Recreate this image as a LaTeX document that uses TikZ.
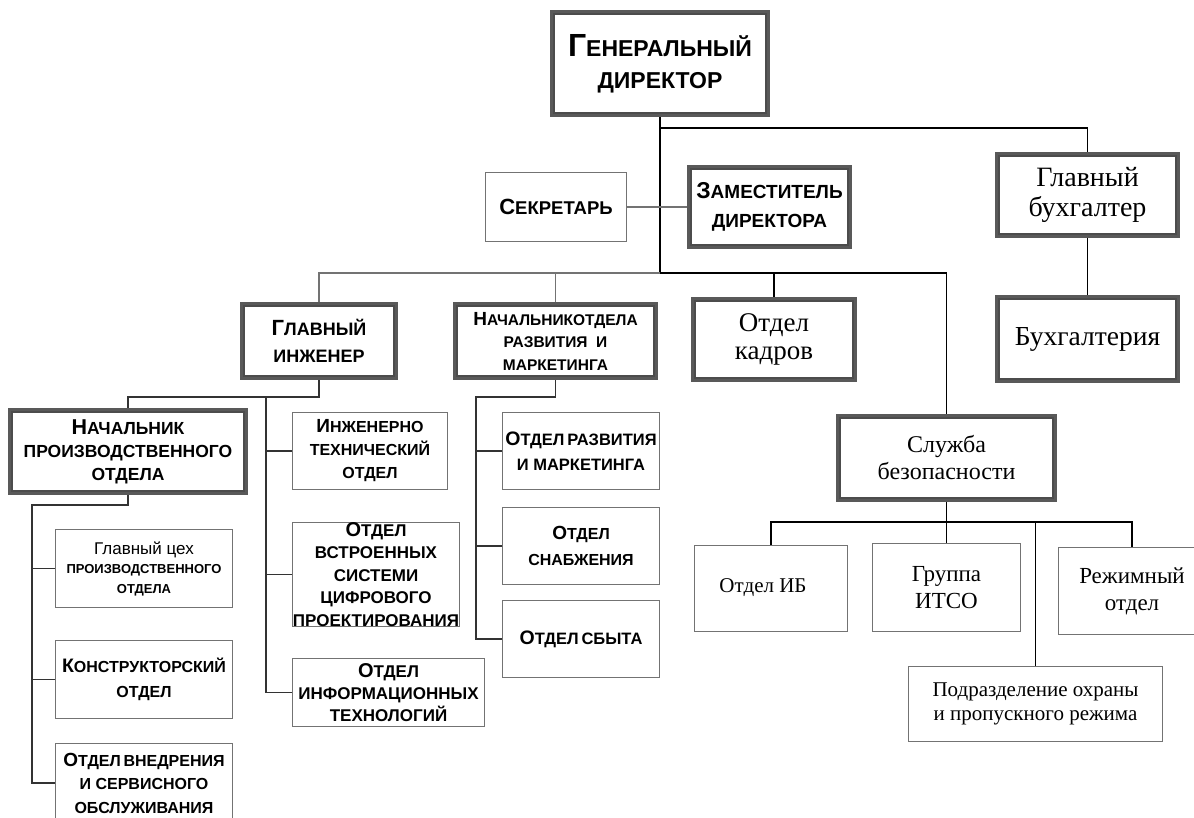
\documentclass[tikz,border=0pt]{standalone}
\usepackage{fontspec}
\setmainfont{Liberation Serif}
\newfontfamily\arialf{Liberation Sans}
% enlarged first letter of a small-caps word
\newcommand\capl[2]{{\fontsize{#1}{#1}\selectfont #2}}
\newcommand\sz[2]{\fontsize{#1}{#2}\selectfont}
\begin{document}
\begin{tikzpicture}[x=1pt,y=-1pt,
  box/.style={draw=black!55, line width=0.9pt, fill=white, inner sep=0pt, align=center},
  dbl/.style={draw=black!65, line width=3pt, fill=white, inner sep=0pt, align=center},
  inner frame/.style={draw=black!70, line width=1.2pt},
  heavy/.style={line width=1.9pt, black},
  mid/.style={line width=1.3pt, black!80},
  light/.style={line width=1.1pt, black!55},
]
\fill[white] (0,0) rectangle (1194,818);
\useasboundingbox (0,0) rectangle (1194,818);

% ---------- top management ----------
\node[dbl, minimum width=217, minimum height=104, font=\arialf\bfseries\sz{23}{32}] (gd) at (660,63.5)
  {\capl{32}{Г}ЕНЕРАЛЬНЫЙ\\ДИРЕКТОР};
\node[box, minimum width=141, minimum height=69, font=\arialf\bfseries\sz{18.5}{22}] (sec) at (556,207)
  {\capl{22}{С}ЕКРЕТАРЬ};
\node[dbl, minimum width=162, minimum height=81, font=\arialf\bfseries\sz{19}{29}] (dep) at (769.5,207)
  {\capl{23}{З}АМЕСТИТЕЛЬ\\ДИРЕКТОРА};
\node[dbl, minimum width=182, minimum height=83, font=\sz{28}{30}] (gb) at (1087.5,195)
  {Главный\\бухгалтер};
\node[dbl, minimum width=182, minimum height=85, font=\sz{27.5}{29}] (buh) at (1087.5,339)
  {Бухгалтерия};

% ---------- second level ----------
\node[dbl, minimum width=155, minimum height=75, font=\arialf\bfseries\sz{18}{27}] (gi) at (319,341)
  {\capl{22}{Г}ЛАВНЫЙ\\ИНЖЕНЕР};
\node[dbl, minimum width=202, minimum height=75, font=\arialf\bfseries\sz{15.5}{22.5}] (nor) at (555.5,341)
  {\capl{19}{Н}АЧАЛЬНИКОТДЕЛА\\РАЗВИТИЯ~~И\\МАРКЕТИНГА};
\node[dbl, minimum width=163, minimum height=82, font=\sz{27}{28}] (ok) at (774,339.5)
  {Отдел\\кадров};
\node[dbl, minimum width=237, minimum height=84, font=\arialf\bfseries\sz{17.5}{23}] (npo) at (128,451.5)
  {\capl{21.5}{Н}АЧАЛЬНИК\\ПРОИЗВОДСТВЕННОГО\\ОТДЕЛА};
\node[dbl, minimum width=218, minimum height=85, font=\sz{24}{27}] (sb) at (946.5,458)
  {Служба\\безопасности};

% ---------- production departments ----------
\node[box, minimum width=177, minimum height=78, font=\arialf\bfseries\sz{13}{19.5}] (gc) at (144,568.5)
  {{\mdseries\fontsize{17}{19.5}\selectfont Главный цех}\\ПРОИЗВОДСТВЕННОГО\\ОТДЕЛА};
\node[box, minimum width=177, minimum height=78, font=\arialf\bfseries\sz{16}{25}] (kon) at (144,679.5)
  {\capl{19.5}{К}ОНСТРУКТОРСКИЙ\\ОТДЕЛ};
\node[box, minimum width=177, minimum height=79, font=\arialf\bfseries\sz{16}{23.5}] (ovn) at (144,783)
  {\capl{19}{О}ТДЕЛ\,ВНЕДРЕНИЯ\\И СЕРВИСНОГО\\ОБСЛУЖИВАНИЯ};

% ---------- engineering departments ----------
\node[box, minimum width=155, minimum height=77, font=\arialf\bfseries\sz{16}{23}] (itd) at (370,451)
  {\capl{19}{И}НЖЕНЕРНО\\ТЕХНИЧЕСКИЙ\\ОТДЕЛ};
\node[box, minimum width=167, minimum height=104, font=\arialf\bfseries\sz{17}{22.5}] (ovs) at (376,574.5)
  {\capl{20}{О}ТДЕЛ\\ВСТРОЕННЫХ\\СИСТЕМИ\\ЦИФРОВОГО\\ПРОЕКТИРОВАНИЯ};
\node[box, minimum width=192, minimum height=68, font=\arialf\bfseries\sz{17}{22}] (oit) at (388.5,692.5)
  {\capl{20}{О}ТДЕЛ\\ИНФОРМАЦИОННЫХ\\ТЕХНОЛОГИЙ};

% ---------- development departments ----------
\node[box, minimum width=157, minimum height=77, font=\arialf\bfseries\sz{16.5}{25}] (orm) at (581,451)
  {\capl{19.5}{О}ТДЕЛ\,РАЗВИТИЯ\\И МАРКЕТИНГА};
\node[box, minimum width=157, minimum height=77, font=\arialf\bfseries\sz{16}{26}] (osn) at (581,546)
  {\capl{19}{О}ТДЕЛ\\СНАБЖЕНИЯ};
\node[box, minimum width=157, minimum height=77, font=\arialf\bfseries\sz{16.5}{26}] (osb) at (581,639)
  {\capl{19.5}{О}ТДЕЛ\,СБЫТА};

% ---------- security departments ----------
\node[box, minimum width=153, minimum height=86, font=\sz{21}{25}] (oib) at (771,588.5)
  {\raisebox{5pt}{Отдел ИБ}\hspace*{16pt}};
\node[box, minimum width=148, minimum height=88, font=\sz{23}{27}] (itso) at (946.5,587.5)
  {Группа\\ИТСО};
\node[box, minimum width=147, minimum height=87, font=\sz{23}{27}] (rez) at (1132,591)
  {Режимный\\отдел};
\node[box, minimum width=254, minimum height=75, font=\sz{21}{24}] (pod) at (1035.5,704)
  {Подразделение охраны\\и пропускного режима};

% inner lines of the double frames
\foreach \n in {gd,dep,gb,buh,gi,nor,ok,npo,sb}
  \draw[inner frame] ([shift={(4pt,-4pt)}]\n.north west) rectangle ([shift={(-4pt,4pt)}]\n.south east);

% ---------- connectors ----------
\coordinate (bus) at (660,273);
\coordinate (t1) at (660,128);
\draw[heavy] (gd.south) -- (bus);
\draw[heavy] (t1) -| (gb.north);
\draw[mid, black] (gb.south) -- (buh.north);
\draw[light] (sec.east) -- (dep.west);

\draw[light] (gi.north) |- (bus);
\draw[light] (nor.north) -- (nor.north |- bus);
\draw[heavy] (bus) -| (sb.north);
\draw[heavy] (ok.north) -- (ok.north |- bus);

% chief engineer
\coordinate (g1) at (319,397);
\coordinate (g2) at (266,397);
\draw[mid] (gi.south) -- (g1) -| (npo.north);
\draw[mid] (g2) |- (oit.west);
\draw[mid] (g2 |- itd.west) -- (itd.west);
\draw[mid] (g2 |- ovs.west) -- (ovs.west);

% development head
\coordinate (n1) at (476,397);
\draw[mid] (nor.south) |- (n1) |- (osb.west);
\draw[mid] (n1 |- orm.west) -- (orm.west);
\draw[mid] (n1 |- osn.west) -- (osn.west);

% production head
\coordinate (p1) at (32,505);
\draw[mid] (npo.south) |- (p1) |- (ovn.west);
\draw[mid] (p1 |- gc.west) -- (gc.west);
\draw[mid] (p1 |- kon.west) -- (kon.west);

% security service
\coordinate (s1) at (946.5,522);
\draw[heavy] (sb.south) -- (s1);
\draw[heavy] (oib.north) |- (s1) -| (rez.north);
\draw[heavy] (s1) -- (itso.north);
\draw[heavy] (pod.north) -- (pod.north |- s1);
\end{tikzpicture}
\end{document}
